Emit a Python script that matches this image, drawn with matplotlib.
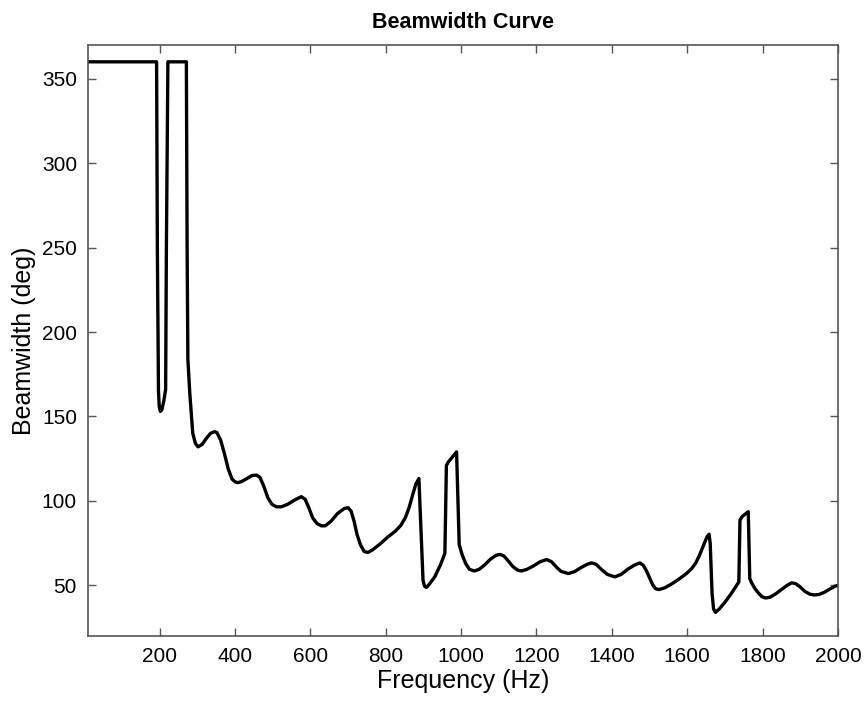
import matplotlib
matplotlib.use("Agg")
import matplotlib.pyplot as plt

plt.rcParams['font.family'] = ['Liberation Sans', 'DejaVu Sans']

# Beamwidth (deg) versus frequency (Hz)
freq = [10, 192, 194, 197, 199, 202, 206, 211, 216, 218, 222,
        271, 273, 275, 280, 288, 295, 302, 313, 324, 335, 346,
        352, 362, 372, 382, 392, 400, 408, 418, 430, 445, 457,
        466, 476, 487, 498, 510, 523, 540, 558, 576, 586, 596,
        606, 618, 630, 640, 655, 672, 690, 700, 708, 716, 724,
        733, 743, 753, 765, 785, 805, 825, 840, 852, 862, 872,
        880, 888, 899, 903, 908, 915, 930, 945, 957, 961, 966,
        988, 995, 1003, 1012, 1022, 1035, 1048, 1062, 1078, 1093, 1103,
        1113, 1125, 1138, 1150, 1160, 1175, 1192, 1210, 1227, 1240, 1252,
        1265, 1284, 1300, 1318, 1335, 1346, 1358, 1372, 1388, 1408, 1425,
        1442, 1460, 1474, 1483, 1492, 1500, 1508, 1516, 1525, 1540, 1560,
        1580, 1598, 1612, 1622, 1632, 1642, 1652, 1658, 1661, 1666, 1670,
        1675, 1685, 1700, 1715, 1731, 1737, 1740, 1745, 1750, 1762, 1766,
        1772, 1780, 1789, 1798, 1808, 1820, 1835, 1850, 1865, 1877, 1888,
        1900, 1912, 1925, 1937, 1950, 1965, 1980, 1992, 2000]
beamwidth = [360, 360, 250, 165, 156, 153, 154, 159, 166, 250, 360,
             360, 250, 184, 164, 140, 134, 132, 133.5, 137, 140, 141,
             140.5, 136, 128, 119, 113, 111.3, 110.8, 111.5, 113, 115, 115.3,
             114, 109, 102, 98, 96.5, 96.5, 98, 100.5, 102.5, 101, 96,
             90, 86.5, 85.2, 85.3, 88, 92.5, 95.5, 96, 94, 88, 80,
             74, 70, 69.5, 71, 74.5, 78.5, 82, 85.5, 90, 96, 104,
             110, 113.3, 53, 49.5, 48.7, 50.5, 55, 62, 69, 121, 123,
             129, 74, 68, 63, 59.5, 58.5, 59.5, 62, 65.5, 67.8, 68.3,
             67.5, 64.5, 61, 59, 58.5, 59.5, 61.5, 64, 65.3, 64, 61,
             58.3, 57, 58, 60.5, 62.5, 63.3, 62.5, 59.5, 56.5, 55, 56.5,
             59.5, 62, 63.3, 62, 58.5, 54.5, 50.5, 48, 47.5, 48.5, 51,
             54, 57, 60, 63, 67.5, 73, 78.5, 80.3, 75, 45, 36,
             34, 36, 40, 44.5, 50, 52, 88.6, 90.5, 91.5, 93.6, 54,
             51, 48, 45.5, 43.3, 42.5, 43, 45, 47.5, 50, 51.5, 51,
             49, 46.5, 44.8, 44.3, 44.6, 46, 48, 49.5, 50]

xticks = [200, 400, 600, 800, 1000, 1200, 1400, 1600, 1800, 2000]
yticks = [50, 100, 150, 200, 250, 300, 350]

fig = plt.figure(figsize=(8.67, 7.02), dpi=100)
ax = fig.add_axes([0.1015, 0.094, 0.865, 0.842])

ax.plot(freq, beamwidth, color='black', linewidth=2.4,
        solid_joinstyle='round', solid_capstyle='round')

ax.set_xlim(10, 2000)
ax.set_ylim(20, 370)
ax.set_xticks(xticks)
ax.set_yticks(yticks)

ax.tick_params(direction='in', length=6, width=1, color='#555555',
               top=True, right=True, labelsize=15, pad=8)
for s in ax.spines.values():
    s.set_color('#555555')
    s.set_linewidth(1.2)

ax.set_xlabel('Frequency (Hz)', fontsize=18, labelpad=2)
ax.set_ylabel('Beamwidth (deg)', fontsize=18, labelpad=4)
ax.set_title('Beamwidth Curve', fontsize=15.5, fontweight='bold', pad=12)

fig.savefig('out.png', dpi=100)
